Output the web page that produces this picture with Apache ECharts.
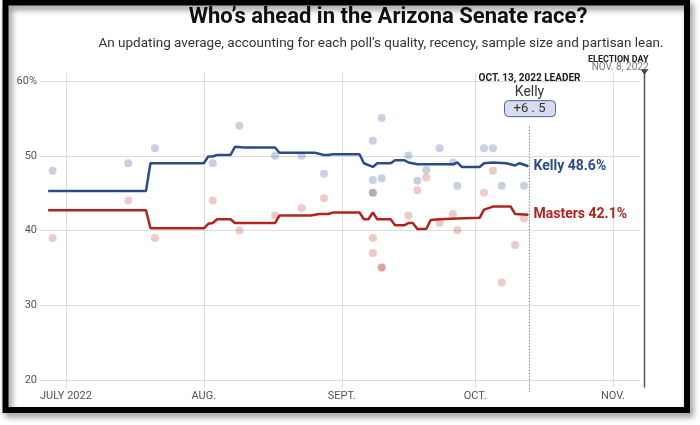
<!DOCTYPE html>
<html><head><meta charset="utf-8">
<script src="https://cdn.jsdelivr.net/npm/echarts@6/dist/echarts.min.js"></script>
<style>html,body{margin:0;padding:0;background:#fff}#c{width:700px;height:425px}</style>
</head><body><div id="c"></div>
<script>
// ---- data ----
const kellyAvg = [
 ['2022-06-27',45.3],['2022-07-19',45.3],['2022-07-20',49.0],['2022-08-01',49.0],['2022-08-02',49.9],
 ['2022-08-03',49.9],['2022-08-04',50.1],['2022-08-07',50.1],['2022-08-08',51.2],['2022-08-10',51.1],
 ['2022-08-17',51.1],['2022-08-18',50.4],['2022-08-26',50.4],['2022-08-28',50.1],['2022-08-29',50.1],
 ['2022-08-30',50.2],['2022-09-05',50.2],['2022-09-06',49.0],['2022-09-08',48.5],['2022-09-09',49.0],
 ['2022-09-12',49.0],['2022-09-13',49.4],['2022-09-15',49.4],['2022-09-16',49.1],['2022-09-18',48.85],
 ['2022-09-26',48.85],['2022-09-27',49.1],['2022-09-28',48.5],['2022-10-02',48.5],['2022-10-03',49.0],
 ['2022-10-05',49.1],['2022-10-08',49.0],['2022-10-10',48.7],['2022-10-11',49.0],['2022-10-13',48.6]
];
const mastersAvg = [
 ['2022-06-27',42.7],['2022-07-19',42.7],['2022-07-20',40.3],['2022-08-01',40.3],['2022-08-02',40.9],
 ['2022-08-03',41.0],['2022-08-04',41.5],['2022-08-07',41.5],['2022-08-08',41.0],['2022-08-17',41.0],
 ['2022-08-18',42.0],['2022-08-25',42.0],['2022-08-27',42.2],['2022-08-29',42.2],['2022-08-30',42.4],
 ['2022-09-05',42.4],['2022-09-06',41.5],['2022-09-07',41.5],['2022-09-08',42.4],['2022-09-09',41.5],
 ['2022-09-12',41.5],['2022-09-13',40.7],['2022-09-15',40.7],['2022-09-16',41.0],['2022-09-17',41.0],
 ['2022-09-18',40.2],['2022-09-20',40.2],['2022-09-21',41.4],['2022-09-23',41.5],['2022-09-27',41.6],
 ['2022-10-02',41.7],['2022-10-03',42.8],['2022-10-05',43.2],['2022-10-09',43.2],['2022-10-10',42.2],
 ['2022-10-13',42.1]
];
const kellyPolls = [
 ['2022-06-28',48.0],['2022-07-15',49.0],['2022-07-21',51.0],['2022-08-03',49.0],['2022-08-09',54.0],
 ['2022-08-17',50.0],['2022-08-23',50.0],['2022-08-28',47.6],['2022-09-08',52.0],['2022-09-08',46.75],
 ['2022-09-08',45.05],['2022-09-10',55.05],['2022-09-10',47.0],['2022-09-16',50.05],['2022-09-18',46.65],
 ['2022-09-20',48.1],['2022-09-23',51.0],['2022-09-26',49.1],['2022-09-27',46.0],['2022-10-03',51.0],
 ['2022-10-05',51.0],['2022-10-07',46.0],['2022-10-12',46.0]
];
const mastersPolls = [
 ['2022-06-28',39.0],['2022-07-15',44.0],['2022-07-21',39.0],['2022-08-03',44.0],['2022-08-09',40.0],
 ['2022-08-17',42.0],['2022-08-23',43.0],['2022-08-28',44.3],['2022-09-08',45.05],['2022-09-08',39.0],
 ['2022-09-08',37.0],['2022-09-10',35.05],['2022-09-10',35.05],['2022-09-16',42.0],['2022-09-18',45.4],
 ['2022-09-20',47.1],['2022-09-23',41.0],['2022-09-26',42.2],['2022-09-27',40.05],['2022-10-03',45.05],
 ['2022-10-05',48.0],['2022-10-07',33.05],['2022-10-10',38.05],['2022-10-12',41.6]
];
const monthTicks = ['2022-07-01','2022-08-01','2022-09-01','2022-10-01','2022-11-01'];
const monthLabels = ['JULY 2022','AUG.','SEPT.','OCT.','NOV.'];
const yTicks = [20,30,40,50,60];
const leaderDate = '2022-10-13';
const electionDate = '2022-11-08';
const leaderName = 'Kelly';
const leaderMargin = '+6 . 5';

// ---- helpers ----
const d = s => { const p = s.split('-').map(Number); return new Date(p[0], p[1]-1, p[2]).getTime(); };
const conv = arr => arr.map(r => [d(r[0]), r[1]]);
const monthTs = monthTicks.map(d);
const BLUE = '#2b4b8c', RED = '#b1241d';

const chart = echarts.init(document.getElementById('c'), null, {renderer:'canvas'});
const xMin = new Date(2022,5,25,4).getTime();
const xMax = new Date(2022,10,7).getTime();

chart.setOption({
  animation: false,
  grid: {left: 40, right: 700-639.7, top: 81, bottom: 45},
  xAxis: {
    type: 'value', min: xMin, max: xMax, scale: true,
    axisLine: {show: false}, axisTick: {show: false}, splitLine: {show: false},
    axisLabel: {
      customValues: monthTs, margin: 11, color: '#555', fontFamily: 'Roboto', fontSize: 11,
      formatter: v => { const i = monthTs.indexOf(+v); return i >= 0 ? monthLabels[i] : ''; }
    }
  },
  yAxis: {
    type: 'value', min: yTicks[0], max: yTicks[yTicks.length-1], interval: 10,
    axisLine: {show: false}, axisTick: {show: false},
    splitLine: {lineStyle: {color: '#dcdcdc', width: 1}},
    axisLabel: {margin: 3, color: '#555', fontFamily: 'Roboto', fontSize: 11,
      formatter: v => v === 60 ? '60%' : String(v)}
  },
  series: [
    {type: 'scatter', data: conv(mastersPolls), symbolSize: 8, z: 2,
     itemStyle: {color: RED, opacity: 0.24}, silent: true},
    {type: 'scatter', data: conv(kellyPolls), symbolSize: 8, z: 2,
     itemStyle: {color: BLUE, opacity: 0.26}, silent: true},
    {type: 'line', name: 'Masters', data: conv(mastersAvg), showSymbol: false, z: 5,
     lineStyle: {color: RED, width: 2.5}, itemStyle: {color: RED},
     endLabel: {show: true, distance: 5, color: RED, fontFamily: 'Roboto', fontWeight: 'bold', fontSize: 14,
       formatter: p => p.seriesName + ' ' + p.value[1].toFixed(1) + '%'}},
    {type: 'line', name: 'Kelly', data: conv(kellyAvg), showSymbol: false, z: 5,
     lineStyle: {color: BLUE, width: 2.5}, itemStyle: {color: BLUE},
     endLabel: {show: true, distance: 5, color: BLUE, fontFamily: 'Roboto', fontWeight: 'bold', fontSize: 14,
       formatter: p => p.seriesName + ' ' + p.value[1].toFixed(1) + '%'}}
  ]
});

// ---- annotations placed through the axis scales ----
const px = t => chart.convertToPixel({xAxisIndex: 0}, t);
const py = v => chart.convertToPixel({yAxisIndex: 0}, v);
const yTopExt = py(61.1), yBotExt = py(18.95);
const gfx = [];
monthTs.forEach(t => {
  const x = Math.round(px(t)) + 0.5;
  gfx.push({type: 'line', z: 0, silent: true, shape: {x1: x, y1: yTopExt, x2: x, y2: yBotExt},
    style: {stroke: '#dcdcdc', lineWidth: 1}});
});
const xL = Math.round(px(d(leaderDate))) + 0.5;
gfx.push({type: 'line', z: 1, silent: true, shape: {x1: xL, y1: py(53.9), x2: xL, y2: py(18.3)},
  style: {stroke: '#888', lineWidth: 1, lineDash: [1.5, 1.5]}});
gfx.push({type: 'text', z: 10, x: xL, y: py(60.3), style: {text: 'OCT. 13, 2022 LEADER', fill: '#222',
  font: 'bold 10px Roboto', textAlign: 'center', textVerticalAlign: 'middle'}});
gfx.push({type: 'text', z: 10, x: xL, y: py(58.4), style: {text: leaderName, fill: '#333',
  font: '14px Roboto', textAlign: 'center', textVerticalAlign: 'middle'}});
gfx.push({type: 'rect', z: 10, shape: {x: xL - 25, y: py(56.3) - 8, width: 51, height: 16, r: 4},
  style: {fill: '#d6ddef', stroke: '#4d6296', lineWidth: 1}});
gfx.push({type: 'text', z: 11, x: xL, y: py(56.3), style: {text: leaderMargin, fill: '#333',
  font: '13px Roboto', textAlign: 'center', textVerticalAlign: 'middle'}});
const xE = Math.round(px(d(electionDate))) + 0.5;
gfx.push({type: 'line', z: 3, silent: true, shape: {x1: xE, y1: py(61.0), x2: xE, y2: py(19.0)},
  style: {stroke: '#555', lineWidth: 1.5}});
gfx.push({type: 'polygon', z: 3, shape: {points: [[xE-4, py(61.6)], [xE+4, py(61.6)], [xE, py(60.8)]]},
  style: {fill: '#444'}});
gfx.push({type: 'text', z: 10, x: xE + 4, y: py(62.9), style: {text: 'ELECTION DAY', fill: '#222',
  font: 'bold 9px Roboto', textAlign: 'right', textVerticalAlign: 'middle'}});
gfx.push({type: 'text', z: 10, x: xE + 4, y: py(61.8), style: {text: 'NOV. 8, 2022', fill: '#777',
  font: '10px Roboto', textAlign: 'right', textVerticalAlign: 'middle'}});
// titles
gfx.push({type: 'text', z: 10, x: 388, y: 17, style: {text: 'Who\u2019s ahead in the Arizona Senate race?',
  fill: '#111', font: 'bold 22px Roboto', textAlign: 'center', textVerticalAlign: 'middle'}});
gfx.push({type: 'text', z: 10, x: 381, y: 44, style: {text: 'An updating average, accounting for each poll\u2019s quality, recency, sample size and partisan lean.',
  fill: '#333', font: '13.5px Roboto', textAlign: 'center', textVerticalAlign: 'middle'}});
// frame
gfx.push({type: 'rect', z: 20, silent: true, shape: {x: 5.5, y: 2.5, width: 681.5, height: 407.5},
  style: {fill: 'none', stroke: '#000', lineWidth: 6, shadowBlur: 6, shadowOffsetX: 3, shadowOffsetY: 4,
    shadowColor: 'rgba(0,0,0,0.45)'}});
chart.setOption({graphic: gfx});
</script></body></html>
